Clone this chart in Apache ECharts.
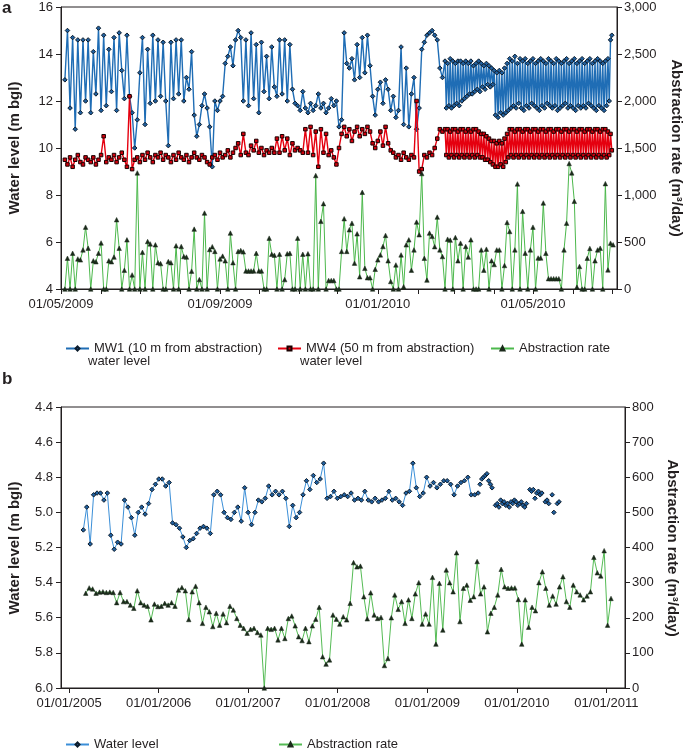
<!DOCTYPE html>
<html><head><meta charset="utf-8">
<script src="https://cdn.jsdelivr.net/npm/echarts@6/dist/echarts.min.js"></script>
<style>html,body{margin:0;padding:0;background:#fff}#c{width:685px;height:749px}</style>
</head><body><div id="c"></div>
<script>
// ---------- Panel a data ----------
// early part: every 2 days from 04/05/2009; band part: daily from 22/02/2010
const panelAStart = '2009-05-04';
const panelAStepDays = 2;
const panelABandStart = '2010-02-22';
const panelABandStepDays = 1;
const mw1Early = [
12.9,15.0,11.7,14.7,10.8,14.6,11.5,14.6,12.0,14.6,
11.5,14.1,12.3,15.1,11.6,14.8,11.8,14.2,12.4,14.7,
11.6,14.9,13.3,12.1,14.8,12.2,11.5,10.0,11.2,13.2,
14.7,11.0,14.2,11.9,14.8,12.0,14.6,12.2,14.5,12.0,
10.1,14.5,12.1,14.6,12.3,14.6,12.0,13.0,12.5,14.1,
11.4,10.5,11.0,11.8,12.3,11.7,10.9,9.2,12.0,11.6,
12.0,12.2,13.6,13.9,14.3,13.5,14.6,15.0,14.7,12.0,
14.6,11.8,14.9,12.1,14.4,11.5,14.5,12.4,13.9,12.1,
14.3,12.6,12.2,14.6,12.3,14.6,12.0,14.4,12.5,11.9,
11.8,11.6,12.4,11.7,11.5,11.9,11.6,11.8,12.3,11.7,
11.9,11.5,11.7,12.1,11.8,12.0,10.9,11.2,14.9,13.6,
13.4,13.8,12.9,14.4,13.0,14.7,13.2,14.8,13.5,12.2,
11.4,12.5,12.8,11.9,12.9,12.5,11.6,12.2,11.3,11.6,
14.3,11.0,13.4,10.9,12.3,13.0,10.8,11.7,14.2,14.5,
14.8,14.9,15.0,14.8,14.6,13.4,13.0];
const mw1Band = [
13.7,11.7,13.6,11.8,13.8,11.7,13.7,11.8,13.6,11.9,
13.7,11.8,13.7,12.0,13.6,12.1,13.7,12.2,13.6,12.3,
13.7,12.3,13.5,12.4,13.6,12.5,13.7,12.4,13.6,12.6,
13.5,12.5,13.6,12.7,13.5,12.6,13.4,12.7,13.3,11.4,
13.2,11.3,13.3,11.5,13.2,11.4,13.4,11.5,13.6,11.6,
13.8,11.7,13.7,11.8,13.9,11.7,13.6,11.9,13.8,11.7,
13.7,11.6,13.8,11.8,13.6,11.7,13.7,11.9,13.8,11.8,
13.6,11.7,13.7,11.6,13.8,11.8,13.7,11.7,13.6,11.9,
13.8,11.8,13.7,11.7,13.6,11.8,13.8,11.6,13.7,11.7,
13.6,11.8,13.7,11.9,13.8,11.7,13.6,11.8,13.7,11.7,
13.8,11.6,13.6,11.8,13.7,11.7,13.8,11.8,13.6,11.7,
13.7,11.9,13.8,11.8,13.6,11.7,13.7,11.6,13.8,11.8,
13.7,11.7,13.6,11.6,13.7,11.8,13.8,12.0,14.6,14.8];
const mw4Early = [
9.5,9.3,9.6,9.2,9.5,9.7,9.4,9.3,9.6,9.5,
9.4,9.6,9.3,9.5,9.7,10.5,9.4,9.6,9.5,9.7,
9.4,9.6,9.8,9.5,9.2,12.2,9.1,9.5,9.6,9.4,
9.7,9.5,9.8,9.6,9.4,9.7,9.6,9.8,9.5,9.7,
9.6,9.4,9.7,9.5,9.8,9.6,9.5,9.7,9.4,9.6,
9.8,9.6,9.5,9.7,9.6,9.4,9.3,9.6,9.7,9.5,
9.8,9.6,9.7,9.9,9.6,9.8,10.0,10.2,9.7,10.6,
9.8,9.7,10.1,9.9,10.3,9.8,10.0,9.7,9.9,9.8,
10.0,9.8,10.4,9.8,10.5,9.9,10.4,9.7,10.2,9.9,
10.0,9.9,9.8,10.8,9.8,10.9,9.7,10.7,9.2,10.8,
9.8,10.6,9.7,9.9,9.6,9.3,10.0,10.6,10.9,10.5,
10.8,10.3,10.7,10.9,10.5,10.8,10.6,10.9,10.7,10.2,
10.0,10.3,10.7,10.1,10.9,10.2,9.9,9.8,9.6,9.7,
9.5,9.8,9.6,9.5,9.7,9.6,12.0,9.0,9.1,9.7,
9.6,9.8,9.7,10.0,10.4,10.8,10.7];
const mw4Band = [
10.8,9.7,10.8,9.6,10.7,9.7,10.8,9.6,10.8,9.7,
10.7,9.6,10.8,9.7,10.8,9.6,10.7,9.7,10.8,9.6,
10.7,9.7,10.8,9.6,10.8,9.7,10.7,9.6,10.6,9.6,
10.6,9.5,10.5,9.5,10.4,9.4,10.3,9.3,10.3,9.2,
10.2,9.2,10.3,9.3,10.2,9.2,10.4,9.4,10.6,9.6,
10.8,9.7,10.8,9.6,10.7,9.7,10.8,9.6,10.8,9.7,
10.7,9.6,10.8,9.7,10.8,9.6,10.7,9.7,10.8,9.6,
10.8,9.7,10.7,9.6,10.8,9.7,10.8,9.6,10.7,9.7,
10.8,9.6,10.8,9.7,10.7,9.6,10.8,9.7,10.8,9.6,
10.7,9.7,10.8,9.6,10.8,9.7,10.7,9.6,10.8,9.7,
10.8,9.6,10.7,9.7,10.8,9.6,10.8,9.7,10.7,9.6,
10.8,9.7,10.8,9.6,10.7,9.7,10.8,9.6,10.8,9.7,
10.7,9.6,10.8,9.7,10.8,9.6,10.7,9.7,10.6,9.9];
const abstractionA = [
0,327,0,380,0,320,310,416,658,434,
0,300,290,380,490,0,0,300,290,340,
737,434,0,200,523,0,150,0,1235,0,
390,0,505,480,0,470,280,270,0,0,
292,280,0,460,0,452,345,340,0,190,
637,0,100,0,808,0,420,450,400,0,
320,350,300,0,595,280,0,400,410,395,
192,192,192,192,380,192,192,0,0,541,
370,360,0,370,0,100,375,380,0,0,
541,0,370,0,375,0,0,1207,0,720,
908,0,90,90,90,0,0,400,748,400,
630,700,275,587,130,1029,220,120,120,0,
210,310,363,452,570,300,80,0,256,0,
363,25,470,523,200,416,712,577,1228,327,
95,595,560,450,765,416,345,0,530,520,
0,548,300,488,0,452,340,523,0,0,
0,416,200,424,0,300,260,416,416,0,
250,708,612,0,416,1118,0,826,381,0,
416,658,0,330,330,915,380,110,110,110,
110,110,0,416,700,1335,1235,933,20,240,
0,0,327,432,0,300,416,434,0,1121,
203,488,470];
const panelAMonthTicks = ['2009-05-01','2009-06-01','2009-07-01','2009-08-01','2009-09-01','2009-10-01','2009-11-01','2009-12-01','2010-01-01','2010-02-01','2010-03-01','2010-04-01','2010-05-01','2010-06-01','2010-07-01'];
const panelALabelDates = ['2009-05-01','2009-09-01','2010-01-01','2010-05-01'];
const panelARange = ['2009-05-01','2010-07-05'];

// ---------- Panel b data ----------
const levelBStart = '2005-02-28';
const levelBStepDays = 14;
const levelB = [
5.10,4.97,5.18,4.90,4.89,4.89,4.93,4.89,5.13,5.21,
5.17,5.18,4.93,4.97,5.03,5.13,5.00,4.97,5.01,4.95,
4.87,4.84,4.81,4.81,4.85,4.83,5.06,5.07,5.09,5.14,
5.20,5.16,5.15,5.12,5.09,5.08,5.09,5.12,4.90,4.88,
4.90,5.00,5.03,5.04,5.00,4.97,5.05,4.86,5.00,5.07,
5.00,4.93,4.94,4.92,4.85,4.90,4.88,4.90,4.88,4.92,
5.08,4.96,5.03,5.00,4.90,4.82,4.87,4.79,4.83,4.81,
4.72,4.92,4.91,4.88,4.92,4.91,4.90,4.91,4.89,4.93,
4.92,4.93,4.88,4.93,4.94,4.92,4.94,4.93,4.92,4.88,
4.93,4.92,4.94,4.96,4.89,4.88,4.72,4.86,4.91,4.89,
4.80,4.85,4.83,4.86,4.84,4.82,4.82,4.84,4.90,4.85,
4.83,4.82,4.80,4.90,4.90,4.89];
const levelBLooseStart = '2009-08-04';
const levelBLooseStepDays = 7;
const levelBLoose = [4.84,4.81,4.80,4.79,4.78,4.82,4.84,4.86,null,4.96,4.95,4.97,4.93,4.95,4.94,4.96,4.95,4.97,4.94,4.95,4.93,4.94,4.96,4.95,4.94,4.96,4.97,4.95,null,4.87,4.88,4.87,4.92,4.89,4.88,4.90,4.89,null,4.94,4.93,4.95,null,4.90,5.00,null,4.95,4.94];
const rateBStart = '2005-03-10';
const rateBStepDays = 14;
const rateB = [
270,285,282,270,273,274,272,273,272,243,
272,246,246,236,227,277,243,236,233,194,
239,232,233,241,236,243,233,279,286,277,
195,274,290,243,184,230,217,175,213,179,
211,186,233,222,198,179,170,156,167,170,
158,151,0,170,167,170,137,170,141,198,
205,177,146,135,170,132,177,196,230,89,
68,80,208,196,182,203,194,241,357,345,
347,260,197,271,208,198,201,64,84,200,
265,224,246,184,251,198,268,300,182,211,
182,315,125,298,165,336,300,274,385,189,
284,293,250,260,360,268,288,160,213,230,
265,338,288,284,285,285,252,125,251,173,
230,220,300,331,284,236,262,239,288,317,
246,230,293,274,265,251,262,274,372,328,
319,391,179,255];
const panelBYearTicks = ['2005-01-01','2006-01-01','2007-01-01','2008-01-01','2009-01-01','2010-01-01','2011-01-01'];
const panelBRange = ['2004-11-29','2011-03-18'];

// ---------- helpers ----------
const DAY = 86400000;
function ts(s){const p=s.split('-').map(Number);return Date.UTC(p[0],p[1]-1,p[2]);}
function seq(start, step, vals){const t0=ts(start);return vals.map((v,i)=>[t0+i*step*DAY, v]);}
function fmtDate(v){const d=new Date(v);const p=n=>String(n).padStart(2,'0');return p(d.getUTCDate())+'/'+p(d.getUTCMonth()+1)+'/'+d.getUTCFullYear();}

const FONT = '"Liberation Sans", Arial, sans-serif';
const INK = '#231f20';
const labelStyle = {fontSize:13, color:INK, fontFamily:FONT};
const axLine = {show:true, lineStyle:{color:INK, width:1}};
const tick = {show:true, inside:false, length:5, lineStyle:{color:INK, width:1}};

const chart = echarts.init(document.getElementById('c'), null, {renderer:'canvas'});
chart.setOption({
  animation:false,
  backgroundColor:'#fff',
  grid:[
    {left:61, right:68, top:7, height:282, show:true, borderColor:INK, borderWidth:1, containLabel:false},
    {left:61, right:60, top:407, height:281, show:true, borderColor:INK, borderWidth:1, containLabel:false}
  ],
  xAxis:[
    {type:'value', gridIndex:0, min:ts(panelARange[0]), max:ts(panelARange[1]), scale:true,
     axisLine:axLine, splitLine:{show:false},
     axisTick:Object.assign({customValues:panelAMonthTicks.map(ts)}, tick),
     axisLabel:Object.assign({customValues:panelALabelDates.map(ts), formatter:fmtDate, margin:9, hideOverlap:false, showMinLabel:true, showMaxLabel:true}, labelStyle)},
    {type:'value', gridIndex:1, min:ts(panelBRange[0]), max:ts(panelBRange[1]), scale:true,
     axisLine:axLine, splitLine:{show:false},
     axisTick:Object.assign({customValues:panelBYearTicks.map(ts)}, tick),
     axisLabel:Object.assign({customValues:panelBYearTicks.map(ts), formatter:fmtDate, margin:9, hideOverlap:false}, labelStyle)}
  ],
  yAxis:[
    {type:'value', gridIndex:0, position:'left', min:4, max:16, interval:2,
     axisLine:axLine, axisTick:tick, splitLine:{show:false},
     axisLabel:Object.assign({margin:8}, labelStyle)},
    {type:'value', gridIndex:0, position:'right', min:0, max:3000, interval:500,
     axisLine:axLine, axisTick:tick, splitLine:{show:false},
     axisLabel:Object.assign({margin:7}, labelStyle)},
    {type:'value', gridIndex:1, position:'left', inverse:true, min:4.4, max:6.0, interval:0.2,
     axisLine:axLine, axisTick:tick, splitLine:{show:false},
     axisLabel:Object.assign({margin:8, formatter:v=>v.toFixed(1)}, labelStyle)},
    {type:'value', gridIndex:1, position:'right', min:0, max:800, interval:100,
     axisLine:axLine, axisTick:tick, splitLine:{show:false},
     axisLabel:Object.assign({margin:7}, labelStyle)}
  ],
  legend:[
    {left:60, top:337, itemWidth:23, itemHeight:5, data:['MW1 (10 m from abstraction) water level'],
     formatter:()=> 'MW1 (10 m from abstraction)', textStyle:labelStyle, selectedMode:false},
    {left:272, top:337, itemWidth:23, itemHeight:5, data:['MW4 (50 m from abstraction) water level'],
     formatter:()=> 'MW4 (50 m from abstraction)', textStyle:labelStyle, selectedMode:false},
    {left:485, top:337, itemWidth:23, itemHeight:5, data:['Abstraction rate'], textStyle:labelStyle, selectedMode:false},
    {left:60, top:733, itemWidth:23, itemHeight:5, data:['Water level'], textStyle:labelStyle, selectedMode:false},
    {left:273, top:733, itemWidth:23, itemHeight:5, data:['Abstraction rate (b)'], formatter:()=>'Abstraction rate', textStyle:labelStyle, selectedMode:false}
  ],
  series:[
    {name:'MW1 (10 m from abstraction) water level', type:'line', xAxisIndex:0, yAxisIndex:0,
     data:seq(panelAStart, panelAStepDays, mw1Early).concat(seq(panelABandStart, panelABandStepDays, mw1Band)),
     showSymbol:true, showAllSymbol:true,
     symbol:'diamond', symbolSize:4.5, lineStyle:{color:'#1f6db5', width:1.4},
     itemStyle:{color:'#1f5f9f', borderColor:'#0c1c2c', borderWidth:1}, z:3},
    {name:'MW4 (50 m from abstraction) water level', type:'line', xAxisIndex:0, yAxisIndex:0,
     data:seq(panelAStart, panelAStepDays, mw4Early).concat(seq(panelABandStart, panelABandStepDays, mw4Band)),
     showSymbol:true, showAllSymbol:true,
     symbol:'rect', symbolSize:3.5, lineStyle:{color:'#e5000f', width:1.4},
     itemStyle:{color:'#d0000d', borderColor:'#1a0000', borderWidth:1}, z:4},
    {name:'Abstraction rate', type:'line', xAxisIndex:0, yAxisIndex:1,
     data:seq(panelAStart, panelAStepDays, abstractionA), showSymbol:true, showAllSymbol:true,
     symbol:'triangle', symbolSize:4.5, lineStyle:{color:'#4cb84c', width:1},
     itemStyle:{color:'#1b2a1b', borderColor:'#1b2a1b', borderWidth:0.5}, z:2},
    {name:'Water level', type:'line', xAxisIndex:1, yAxisIndex:2,
     data:seq(levelBStart, levelBStepDays, levelB), showSymbol:true, showAllSymbol:true,
     symbol:'diamond', symbolSize:4.5, lineStyle:{color:'#3b8fd8', width:1},
     itemStyle:{color:'#1f5f9f', borderColor:'#0c1c2c', borderWidth:1}, z:3},
    {name:'Water level', type:'line', xAxisIndex:1, yAxisIndex:2,
     data:seq(levelBLooseStart, levelBLooseStepDays, levelBLoose), showSymbol:true, showAllSymbol:true,
     symbol:'diamond', symbolSize:4.5, lineStyle:{width:0, opacity:0}, connectNulls:false,
     itemStyle:{color:'#1f5f9f', borderColor:'#0c1c2c', borderWidth:1}, z:3},
    {name:'Abstraction rate (b)', type:'line', xAxisIndex:1, yAxisIndex:3,
     data:seq(rateBStart, rateBStepDays, rateB), showSymbol:true, showAllSymbol:true,
     symbol:'triangle', symbolSize:4.5, lineStyle:{color:'#55bb55', width:1},
     itemStyle:{color:'#1b2a1b', borderColor:'#1b2a1b', borderWidth:0.5}, z:2}
  ],
  graphic:[
    {type:'text', x:2, y:0, style:{text:'a', font:'bold 17px '+FONT, fill:INK}},
    {type:'text', x:2, y:371, style:{text:'b', font:'bold 17px '+FONT, fill:INK}},
    {type:'text', x:15, y:148, rotation:Math.PI/2, style:{text:'Water level (m bgl)', font:'bold 15px '+FONT, fill:INK, textAlign:'center', textVerticalAlign:'middle', align:'center', verticalAlign:'middle'}},
    {type:'text', x:676, y:148, rotation:-Math.PI/2, style:{text:'Abstraction rate (m³/day)', font:'bold 15px '+FONT, fill:INK, textAlign:'center', textVerticalAlign:'middle', align:'center', verticalAlign:'middle'}},
    {type:'text', x:15, y:548, rotation:Math.PI/2, style:{text:'Water level (m bgl)', font:'bold 15px '+FONT, fill:INK, textAlign:'center', textVerticalAlign:'middle', align:'center', verticalAlign:'middle'}},
    {type:'text', x:672, y:548, rotation:-Math.PI/2, style:{text:'Abstraction rate (m³/day)', font:'bold 15px '+FONT, fill:INK, textAlign:'center', textVerticalAlign:'middle', align:'center', verticalAlign:'middle'}},
    {type:'text', x:88, y:361, style:{text:'water level', font:'13px '+FONT, fill:INK, textVerticalAlign:'middle', verticalAlign:'middle'}},
    {type:'text', x:300, y:361, style:{text:'water level', font:'13px '+FONT, fill:INK, textVerticalAlign:'middle', verticalAlign:'middle'}}
  ]
});
</script>
</body></html>
